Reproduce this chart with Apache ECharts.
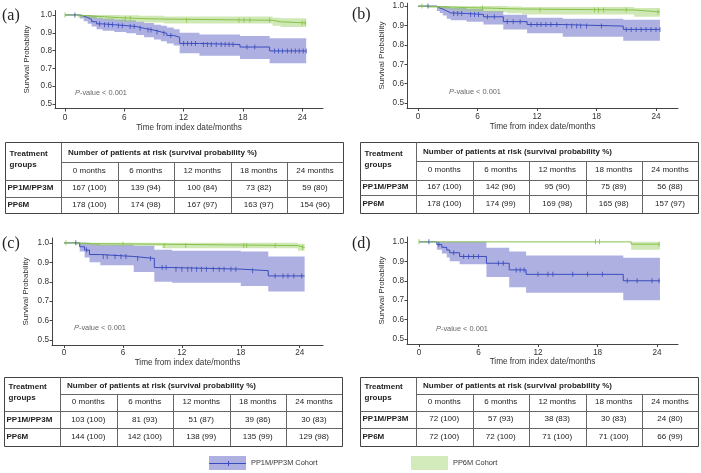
<!DOCTYPE html>
<html><head><meta charset="utf-8">
<script src="https://cdn.jsdelivr.net/npm/echarts@6/dist/echarts.min.js"></script>
<style>html,body{margin:0;padding:0;background:#fff}#c{width:701px;height:473px}</style>
</head><body><div id="c"></div>
<script>
// ---------- data ----------
const xTicks = [0, 6, 12, 18, 24];
const yTicks = [0.5, 0.6, 0.7, 0.8, 0.9, 1.0];
const months = ['0 months', '6 months', '12 months', '18 months', '24 months'];
const groups = ['PP1M/PP3M', 'PP6M'];
const seriesNames = ['PP1M/PP3M Cohort', 'PP6M Cohort'];

// panel (a)
const aBlueT = [0, 1.5, 1.9, 2.3, 2.7, 3.2, 3.8, 5.0, 6.2, 7.2, 8.0, 9.0, 9.7, 10.3, 11.0, 11.6, 13.6, 17.7, 20.7, 24.4];
const aBlueS = [1.0, 0.994, 0.985, 0.975, 0.962, 0.95, 0.945, 0.94, 0.935, 0.925, 0.915, 0.905, 0.897, 0.885, 0.875, 0.84, 0.834, 0.82, 0.798, 0.798];
const aBlueU = [1.0, 1.0, 1.0, 1.0, 0.995, 0.985, 0.98, 0.975, 0.97, 0.962, 0.955, 0.945, 0.94, 0.93, 0.92, 0.90, 0.891, 0.882, 0.869, 0.869];
const aBlueL = [1.0, 0.98, 0.965, 0.95, 0.935, 0.92, 0.912, 0.905, 0.898, 0.887, 0.875, 0.862, 0.853, 0.84, 0.828, 0.785, 0.771, 0.753, 0.729, 0.729];
const aBlueC = [1.0, 3.5, 4.0, 4.4, 4.8, 5.4, 5.8, 6.6, 7.0, 7.6, 8.4, 8.7, 9.3, 10.0, 10.7, 12.0, 12.4, 12.8, 13.2, 14.0, 14.4, 14.8, 15.3, 15.8, 16.2, 16.6, 17.0, 18.4, 19.2, 21.2, 21.6, 22.0, 22.5, 22.9, 23.3, 23.7, 24.1, 24.4];
const aGreenT = [0, 1.3, 2.5, 4.0, 5.5, 7.5, 10.0, 21.0, 21.8, 24.4];
const aGreenS = [1.0, 0.995, 0.99, 0.985, 0.98, 0.977, 0.97, 0.962, 0.955, 0.955];
const aGreenU = [1.0, 1.0, 1.0, 1.0, 0.998, 0.996, 0.992, 0.985, 0.982, 0.982];
const aGreenL = [1.0, 0.985, 0.978, 0.97, 0.962, 0.958, 0.952, 0.94, 0.932, 0.932];
const aGreenC = [0, 6.1, 6.6, 12.3, 17.6, 18.1, 18.7, 20.7, 24.0, 24.3];
const aRiskBlue = [167, 139, 100, 73, 59];
const aProbBlue = [100, 94, 84, 82, 80];
const aRiskGreen = [178, 174, 167, 163, 154];
const aProbGreen = [100, 98, 97, 97, 96];

// panel (b)
const bBlueT = [0, 1.9, 2.2, 2.5, 2.9, 3.3, 4.9, 6.6, 8.6, 11.0, 14.6, 20.7, 24.4];
const bBlueS = [1.0, 0.99, 0.985, 0.975, 0.965, 0.962, 0.957, 0.945, 0.92, 0.905, 0.897, 0.88, 0.88];
const bBlueU = [1.0, 1.0, 1.0, 1.0, 0.995, 0.99, 0.985, 0.975, 0.955, 0.94, 0.935, 0.93, 0.93];
const bBlueL = [1.0, 0.975, 0.965, 0.952, 0.935, 0.927, 0.92, 0.905, 0.88, 0.86, 0.842, 0.822, 0.822];
const bBlueC = [1.0, 3.6, 4.0, 4.4, 5.3, 5.7, 6.1, 7.0, 7.7, 9.0, 9.6, 10.3, 11.4, 12.0, 12.4, 12.9, 13.4, 14.0, 15.0, 15.5, 16.0, 16.4, 17.0, 18.5, 21.0, 21.5, 22.0, 22.5, 23.0, 23.5, 24.0, 24.4];
const bGreenT = [0, 1.0, 2.0, 3.5, 5.0, 7.0, 9.0, 10.5, 21.8, 24.4];
const bGreenS = [1.0, 0.997, 0.995, 0.992, 0.99, 0.987, 0.985, 0.98, 0.97, 0.97];
const bGreenU = [1.0, 1.0, 1.0, 1.0, 1.0, 1.0, 0.998, 0.995, 0.99, 0.99];
const bGreenL = [1.0, 0.99, 0.985, 0.978, 0.972, 0.968, 0.963, 0.957, 0.945, 0.945];
const bGreenC = [0.4, 6.5, 12.3, 17.8, 18.2, 18.7, 21.0, 24.2];
const bRiskBlue = [167, 142, 95, 75, 56];
const bProbBlue = [100, 96, 90, 89, 88];
const bRiskGreen = [178, 174, 169, 165, 157];
const bProbGreen = [100, 99, 98, 98, 97];

// panel (c)
const cBlueT = [0, 1.6, 2.1, 2.6, 3.7, 7.1, 9.2, 11.0, 18.0, 20.8, 24.5];
const cBlueS = [1.0, 0.98, 0.963, 0.94, 0.93, 0.92, 0.873, 0.865, 0.857, 0.83, 0.83];
const cBlueU = [1.0, 1.0, 1.0, 0.995, 0.99, 0.985, 0.965, 0.96, 0.955, 0.93, 0.93];
const cBlueL = [1.0, 0.955, 0.925, 0.9, 0.885, 0.85, 0.8, 0.795, 0.778, 0.75, 0.75];
const cBlueC = [1.2, 2.3, 4.0, 4.4, 5.2, 5.8, 6.3, 7.5, 8.8, 10.0, 10.4, 11.4, 12.0, 12.6, 13.0, 13.5, 14.0, 14.5, 15.2, 15.8, 16.3, 17.0, 17.5, 19.2, 21.5, 22.3, 22.8, 23.4, 24.2];
const cGreenT = [0, 1.2, 3.0, 10.0, 23.8, 24.5];
const cGreenS = [1.0, 0.996, 0.993, 0.986, 0.976, 0.976];
const cGreenU = [1.0, 1.0, 1.0, 1.0, 0.995, 0.995];
const cGreenL = [1.0, 0.99, 0.985, 0.972, 0.96, 0.96];
const cGreenC = [0.2, 6.0, 10.2, 12.4, 18.3, 18.6, 21.5, 24.3];
const cRiskBlue = [103, 81, 51, 39, 30];
const cProbBlue = [100, 93, 87, 86, 83];
const cRiskGreen = [144, 142, 138, 135, 129];
const cProbGreen = [100, 100, 99, 99, 98];

// panel (d)
const dBlueT = [0, 1.8, 2.3, 2.8, 3.1, 4.1, 6.8, 9.1, 10.8, 20.6, 24.3];
const dBlueS = [1.0, 0.986, 0.972, 0.958, 0.944, 0.925, 0.89, 0.856, 0.833, 0.80, 0.80];
const dBlueU = [1.0, 1.0, 1.0, 1.0, 1.0, 1.0, 0.97, 0.95, 0.93, 0.918, 0.918];
const dBlueL = [1.0, 0.96, 0.94, 0.92, 0.9, 0.885, 0.82, 0.767, 0.739, 0.70, 0.70];
const dBlueC = [1.0, 2.0, 3.5, 4.5, 5.0, 5.5, 6.0, 8.0, 8.5, 9.8, 10.2, 10.6, 12.0, 13.0, 13.5, 15.5, 17.0, 18.5, 21.0, 22.0, 23.5, 24.2];
const dGreenT = [0, 21.4, 24.3];
const dGreenS = [1.0, 0.988, 0.988];
const dGreenU = [1.0, 1.0, 1.0];
const dGreenL = [1.0, 0.96, 0.96];
const dGreenC = [0, 17.8, 18.2, 24.2];
const dRiskBlue = [72, 57, 38, 30, 24];
const dProbBlue = [100, 93, 83, 83, 80];
const dRiskGreen = [72, 72, 71, 71, 66];
const dProbGreen = [100, 100, 100, 100, 99];

// ---------- layout / style ----------
const BLUE = '#3a4cbc', GREEN = '#86c249';
const BLUE_BAND = 'rgba(70,76,190,0.44)', GREEN_BAND = 'rgba(150,205,90,0.45)';
const FONT = 'Liberation Sans, Arial, sans-serif';
const TXT = '#333';

const panels = [
  { tag: '(a)', tagPos: [2, 16], grid: { left: 55, top: 10.5, width: 268, height: 98 }, x: [-1.01, 26.1], y: [0.475, 1.025],
    lm: 5, ng: 15.5, yng: 24, pv: [75, 93], tbl: [5, 142, [0, 20, 38, 54.5, 71]],
    blue: [aBlueT, aBlueS, aBlueL, aBlueU, aBlueC], green: [aGreenT, aGreenS, aGreenL, aGreenU, aGreenC],
    risk: [aRiskBlue, aProbBlue, aRiskGreen, aProbGreen] },
  { tag: '(b)', tagPos: [352, 15], grid: { left: 407, top: 3.2, width: 271, height: 104.8 }, x: [-1.11, 26.22], y: [0.475, 1.015],
    lm: 4.5, ng: 15, yng: 21, pv: [449, 92], tbl: [360, 142, [0, 19, 37.5, 53, 71]],
    blue: [bBlueT, bBlueS, bBlueL, bBlueU, bBlueC], green: [bGreenT, bGreenS, bGreenL, bGreenU, bGreenC],
    risk: [bRiskBlue, bProbBlue, bRiskGreen, bProbGreen] },
  { tag: '(c)', tagPos: [2, 244], grid: { left: 52, top: 238, width: 271, height: 107 }, x: [-1.22, 26.37], y: [0.475, 1.025],
    lm: 3.5, ng: 13.5, yng: 22, pv: [74, 328], tbl: [4, 377, [0, 16.5, 34, 51, 69]],
    blue: [cBlueT, cBlueS, cBlueL, cBlueU, cBlueC], green: [cGreenT, cGreenS, cGreenL, cGreenU, cGreenC],
    risk: [cRiskBlue, cProbBlue, cRiskGreen, cProbGreen] },
  { tag: '(d)', tagPos: [352, 244], grid: { left: 407, top: 237, width: 271, height: 107 }, x: [-1.21, 26.12], y: [0.475, 1.025],
    lm: 4.5, ng: 13.5, yng: 21, pv: [436, 329], tbl: [360, 377, [0, 16.5, 33.5, 51, 69]],
    blue: [dBlueT, dBlueS, dBlueL, dBlueU, dBlueC], green: [dGreenT, dGreenS, dGreenL, dGreenU, dGreenC],
    risk: [dRiskBlue, dProbBlue, dRiskGreen, dProbGreen] }
];

function survAt(T, S, t) {
  let v = S[0];
  for (let i = 0; i < T.length; i++) if (T[i] <= t) v = S[i];
  return v;
}

function bandSeries(gi, T, L, U, color) {
  return {
    type: 'custom', xAxisIndex: gi, yAxisIndex: gi, silent: true, z: 1,
    data: T.map((t, i) => [t, L[i], U[i]]),
    encode: { x: 0, y: [1, 2] },
    renderItem: (params, api) => {
      if (params.dataIndex !== 0) return null;
      const pts = [];
      for (let i = 0; i < T.length - 1; i++) { pts.push(api.coord([T[i], U[i]])); pts.push(api.coord([T[i + 1], U[i]])); }
      for (let i = T.length - 2; i >= 0; i--) { pts.push(api.coord([T[i + 1], L[i]])); pts.push(api.coord([T[i], L[i]])); }
      return { type: 'polygon', shape: { points: pts }, style: { fill: color } };
    }
  };
}
function lineSeries(gi, name, T, S, color) {
  return { type: 'line', name, xAxisIndex: gi, yAxisIndex: gi, step: 'end', silent: true, z: 3,
    data: T.map((t, i) => [t, S[i]]), showSymbol: false, symbol: 'none',
    lineStyle: { color, width: 1 } };
}
function censorSeries(gi, T, S, C, color) {
  return { type: 'scatter', xAxisIndex: gi, yAxisIndex: gi, silent: true, z: 4,
    symbol: 'rect', symbolSize: [1, 5], itemStyle: { color },
    data: C.map(t => [t, survAt(T, S, t)]) };
}

const grids = [], xAxes = [], yAxes = [], series = [], gfx = [];
panels.forEach((p, gi) => {
  grids.push(Object.assign({ containLabel: false }, p.grid));
  xAxes.push({
    gridIndex: gi, type: 'value', min: p.x[0], max: p.x[1],
    axisLine: { show: true, onZero: false, lineStyle: { color: '#444', width: 1 } },
    axisTick: { show: true, customValues: xTicks, length: 3, lineStyle: { color: '#444' } },
    axisLabel: { customValues: xTicks, fontSize: 8.2, color: TXT, margin: p.lm, fontFamily: FONT },
    splitLine: { show: false },
    name: 'Time from index date/months', nameLocation: 'middle', nameGap: p.ng,
    nameTextStyle: { fontSize: 8.2, color: TXT, fontFamily: FONT }
  });
  yAxes.push({
    gridIndex: gi, type: 'value', min: p.y[0], max: p.y[1],
    axisLine: { show: true, onZero: false, lineStyle: { color: '#444', width: 1 } },
    axisTick: { show: true, customValues: yTicks, length: 2.5, lineStyle: { color: '#444' } },
    axisLabel: { customValues: yTicks, fontSize: 8.2, color: TXT, margin: 3, fontFamily: FONT, formatter: v => v.toFixed(1) },
    splitLine: { show: false },
    name: 'Survival Probability', nameLocation: 'middle', nameGap: p.yng, nameRotate: 90,
    nameTextStyle: { fontSize: 8, color: TXT, fontFamily: FONT }
  });
  const [bT, bS, bL, bU, bC] = p.blue, [gT, gS, gL, gU, gC] = p.green;
  series.push(bandSeries(gi, bT, bL, bU, BLUE_BAND));
  series.push(bandSeries(gi, gT, gL, gU, GREEN_BAND));
  series.push(lineSeries(gi, seriesNames[0], bT, bS, BLUE));
  series.push(lineSeries(gi, seriesNames[1], gT, gS, GREEN));
  series.push(censorSeries(gi, bT, bS, bC, BLUE));
  series.push(censorSeries(gi, gT, gS, gC, GREEN));

  // panel tag
  gfx.push({ type: 'text', x: p.tagPos[0], y: p.tagPos[1], silent: true,
    style: { text: p.tag, font: '16px "Liberation Serif", "Times New Roman", serif', fill: '#222', verticalAlign: 'middle' } });
  // p-value
  gfx.push({ type: 'text', x: p.pv[0], y: p.pv[1], silent: true,
    style: { text: '{i|P}-value < 0.001', fontSize: 7.4, fontFamily: FONT, fill: '#666', verticalAlign: 'middle',
      rich: { i: { fontStyle: 'italic', fontSize: 7.4, fontFamily: FONT, fill: '#666' } } } });

  // table
  const [x0, y0, R] = p.tbl;
  const cx = [0, 56, 112.5, 169, 225.5, 282, 338];
  const W = 338, H = R[4];
  const snap = v => Math.round(v) + 0.5;
  const ln = (x1, y1, x2, y2, w, c) => gfx.push({ type: 'line', silent: true,
    shape: { x1: snap(x0 + x1), y1: snap(y0 + y1), x2: snap(x0 + x2), y2: snap(y0 + y2) },
    style: { stroke: c || '#666', lineWidth: w || 1 } });
  ln(0, 0, W, 0, 1, '#444'); ln(0, H, W, H, 1, '#444'); ln(0, 0, 0, H, 1, '#444'); ln(W, 0, W, H, 1, '#444');
  ln(cx[1], 0, cx[1], H);
  ln(cx[1], R[1], W, R[1]);
  ln(0, R[2], W, R[2]);
  ln(0, R[3], W, R[3]);
  for (let k = 2; k <= 5; k++) ln(cx[k], R[1], cx[k], H);
  const tx = (x, y, text, bold, align) => gfx.push({ type: 'text', x: x0 + x, y: y0 + y, silent: true,
    style: { text, fontSize: 8, fontWeight: bold ? 'bold' : 'normal', fontFamily: FONT, fill: '#222',
      align: align || 'left', verticalAlign: 'middle', lineHeight: 11 } });
  tx(4.5, R[2] / 2 - 1.5, 'Treatment\ngroups', true);
  tx(cx[1] + 7, R[1] / 2 + 0.5, 'Number of patients at risk (survival probability %)', true);
  for (let k = 0; k < 5; k++) {
    const mx = (cx[k + 1] + cx[k + 2]) / 2;
    tx(mx, (R[1] + R[2]) / 2, months[k], false, 'center');
    tx(mx, (R[2] + R[3]) / 2, p.risk[0][k] + ' (' + p.risk[1][k] + ')', false, 'center');
    tx(mx, (R[3] + R[4]) / 2, p.risk[2][k] + ' (' + p.risk[3][k] + ')', false, 'center');
  }
  tx(2.5, (R[2] + R[3]) / 2, groups[0], true);
  tx(2.5, (R[3] + R[4]) / 2, groups[1], true);
});

// legend
const legendItems = [
  { x: 209, label: seriesNames[0], fill: 'rgba(70,76,190,0.44)', line: BLUE },
  { x: 411, label: seriesNames[1], fill: 'rgba(150,205,90,0.42)', line: null }
];
legendItems.forEach(it => {
  gfx.push({ type: 'rect', silent: true, shape: { x: it.x, y: 456, width: 37, height: 14 }, style: { fill: it.fill } });
  if (it.line) {
    gfx.push({ type: 'line', silent: true, shape: { x1: it.x, y1: 463.5, x2: it.x + 37, y2: 463.5 }, style: { stroke: it.line, lineWidth: 1 } });
    gfx.push({ type: 'line', silent: true, shape: { x1: it.x + 19.5, y1: 461, x2: it.x + 19.5, y2: 466 }, style: { stroke: it.line, lineWidth: 1 } });
  }
  gfx.push({ type: 'text', silent: true, x: it.x + 42, y: 463, style: { text: it.label, fontSize: 7.4, fontFamily: FONT, fill: '#333', verticalAlign: 'middle' } });
});

const chart = echarts.init(document.getElementById('c'), null, { renderer: 'canvas' });
chart.setOption({
  animation: false,
  backgroundColor: '#fff',
  grid: grids, xAxis: xAxes, yAxis: yAxes, series,
  graphic: { elements: gfx }
});
</script></body></html>
